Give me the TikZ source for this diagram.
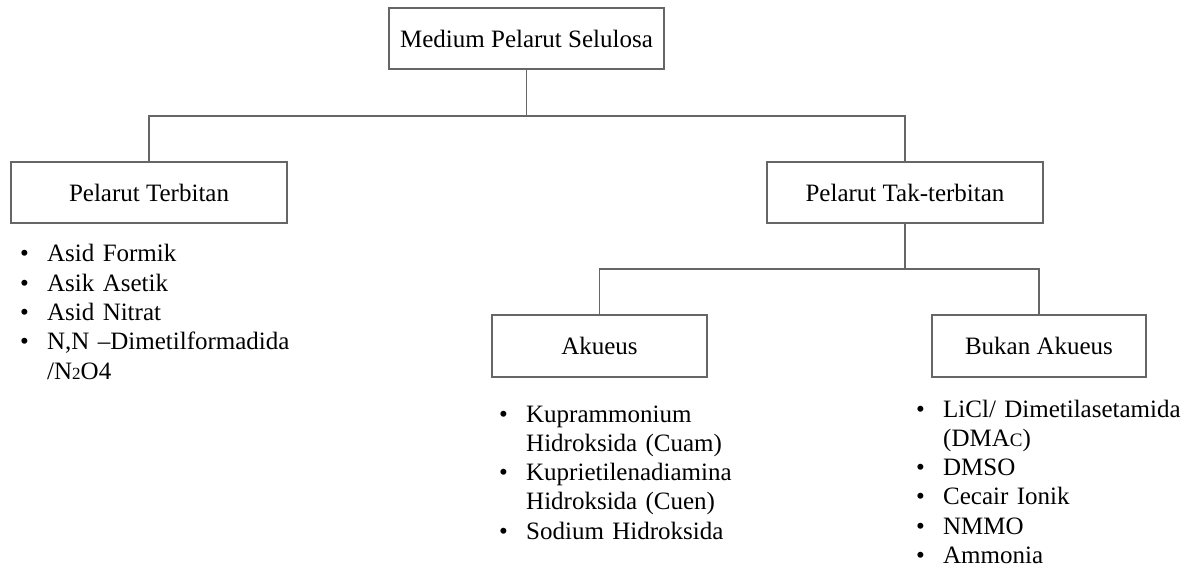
\documentclass[tikz,border=0pt]{standalone}
\usepackage{fontspec}
\setmainfont{Liberation Serif}
\usetikzlibrary{positioning,calc}

\tikzset{
  box/.style={draw=black!60, line width=1.3pt, minimum height=61pt, inner sep=0pt,
    font=\fontsize{25}{30}\selectfont},
  bullets/.style={anchor=base west, inner sep=0pt, align=left, text width=300pt,
    font=\fontsize{25}{29.3}\selectfont},
  link/.style={draw=black!60, line width=1.3pt}
}
\newcommand{\itm}[1]{\hangindent=27pt\hangafter=1\noindent\makebox[27pt][l]{\textbullet}#1\par}

\begin{document}
\begin{tikzpicture}[x=1pt,y=-1pt]
  \useasboundingbox (0,0) rectangle (1187,572);

  % Drawing boxes
  \node[box, minimum width=275pt] (top) at (526.5,38.5) {Medium Pelarut Selulosa};
  \node[box, minimum width=276pt] (terb) at (149,192.5) {Pelarut Terbitan};
  \node[box, minimum width=276pt] (takterb) at (905,192.5) {Pelarut Tak-terbitan};
  \node[box, minimum width=215pt, minimum height=62pt] (akueus) at (599.5,346) {Akueus};
  \node[box, minimum width=214pt, minimum height=62pt] (bukan) at (1039,346) {Bukan Akueus};

  % Drawing links top level
  \coordinate (split1) at (526.5,116);
  \draw[link] (top.south) -- (split1) -| (terb.north);
  \draw[link] (split1) -| (takterb.north);

  % Drawing links second level
  \coordinate (split2) at (905,269);
  \draw[link] (takterb.south) -- (split2) -| (akueus.north);
  \draw[link] (split2) -| (bukan.north);

  % Marking lists
  \node[bullets] (terblist) at (20,262) {%
    \itm{Asid Formik}
    \itm{Asik Asetik}
    \itm{Asid Nitrat}
    \itm{N,N –Dimetilformadida\newline /N{\fontsize{17}{17}\selectfont 2}O4}};
  \node[bullets] (akueuslist) at (499,422) {%
    \itm{Kuprammonium\newline Hidroksida (Cuam)}
    \itm{Kuprietilenadiamina\newline Hidroksida (Cuen)}
    \itm{Sodium Hidroksida}};
  \node[bullets] (bukanlist) at (916,417) {%
    \itm{LiCl/ Dimetilasetamida\newline (DMA{\fontsize{19}{19}\selectfont C})}
    \itm{DMSO}
    \itm{Cecair Ionik}
    \itm{NMMO}
    \itm{Ammonia}};
\end{tikzpicture}
\end{document}
